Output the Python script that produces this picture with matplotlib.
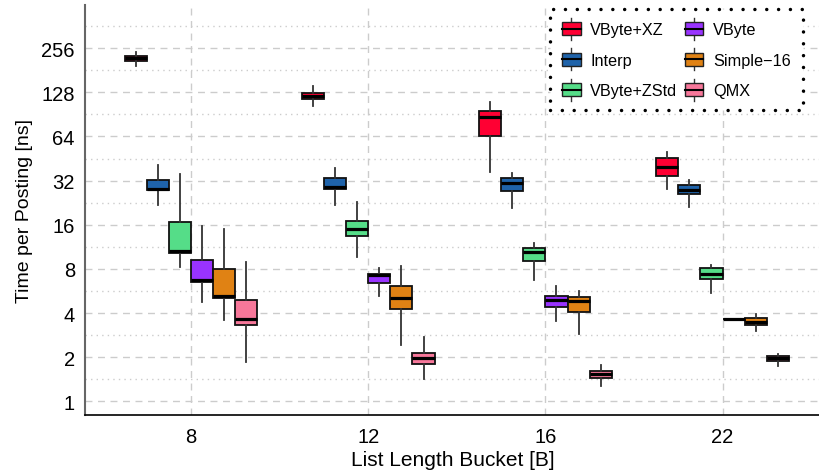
import matplotlib
matplotlib.use("Agg")
import matplotlib.pyplot as plt
import numpy as np
from matplotlib.patches import Rectangle, Patch
from matplotlib.lines import Line2D
from matplotlib.legend_handler import HandlerBase

plt.rcParams['font.family'] = ['Liberation Sans', 'DejaVu Sans']

buckets = ['8', '12', '16', '22']
methods = ['VByte+XZ', 'Interp', 'VByte+ZStd', 'VByte', 'Simple\u221216', 'QMX']
colors = ['#FF0033', '#1F63AA', '#55DD88', '#9933FF', '#E08214', '#F7779A']

# per method: one value per bucket (8, 12, 16, 22)
whislo = {
    'VByte+XZ':   [194, 102.6, 36.6, 28.0],
    'Interp':     [21.8, 21.9, 20.8, 21.0],
    'VByte+ZStd': [8.27, 9.59, 6.75, 5.5],
    'VByte':      [4.73, 5.2, 3.51, 3.62],
    'Simple\u221216': [3.6, 2.43, 2.88, 3.03],
    'QMX':        [1.86, 1.42, 1.28, 1.75],
}
q1 = {
    'VByte+XZ':   [211, 116, 64.4, 34.2],
    'Interp':     [27.6, 28.0, 27.3, 25.8],
    'VByte+ZStd': [10.3, 13.4, 9.04, 6.85],
    'VByte':      [6.54, 6.4, 4.37, 3.62],
    'Simple\u221216': [5.04, 4.24, 4.04, 3.30],
    'QMX':        [3.33, 1.80, 1.45, 1.88],
}
med = {
    'VByte+XZ':   [219, 121, 86.7, 39.6],
    'Interp':     [28.0, 28.9, 30.9, 27.7],
    'VByte+ZStd': [10.6, 15.0, 10.5, 7.41],
    'VByte':      [6.75, 7.23, 4.88, 3.62],
    'Simple\u221216': [5.25, 5.06, 4.8, 3.47],
    'QMX':        [3.64, 1.96, 1.53, 1.97],
}
q3 = {
    'VByte+XZ':   [225, 125.8, 95.3, 45.3],
    'Interp':     [32.4, 33.1, 33.1, 29.7],
    'VByte+ZStd': [16.8, 16.9, 11.1, 8.07],
    'VByte':      [9.23, 7.34, 5.25, 3.62],
    'Simple\u221216': [8.02, 6.11, 5.12, 3.70],
    'QMX':        [4.93, 2.13, 1.61, 2.04],
}
whishi = {
    'VByte+XZ':   [243, 141.7, 110, 49.8],
    'Interp':     [41.0, 38.8, 35.8, 32.4],
    'VByte+ZStd': [35.4, 22.7, 12.1, 8.49],
    'VByte':      [15.7, 8.07, 6.08, 3.62],
    'Simple\u221216': [14.9, 8.32, 5.62, 3.92],
    'QMX':        [8.95, 2.73, 1.78, 2.09],
}

yticks = [1, 2, 4, 8, 16, 32, 64, 128, 256]

fig = plt.figure(figsize=(8.2, 4.77), dpi=100)
ax = fig.add_axes([0.1033, 0.1285, 0.8967, 0.8585])

box_w = 0.125
for i, m in enumerate(methods):
    stats = []
    for g in range(len(buckets)):
        stats.append(dict(whislo=whislo[m][g], q1=q1[m][g], med=med[m][g],
                          q3=q3[m][g], whishi=whishi[m][g], fliers=[]))
    pos = [g + 1 + (i - 2.5) * box_w for g in range(len(buckets))]
    ax.bxp(stats, positions=pos, widths=box_w, patch_artist=True,
           showcaps=False, showfliers=False,
           boxprops=dict(facecolor=colors[i], edgecolor='#111111', linewidth=1.3),
           medianprops=dict(color='black', linewidth=2.3, solid_capstyle='butt'),
           whiskerprops=dict(color='#333333', linewidth=1.3),
           manage_ticks=False, zorder=3)

ax.set_yscale('log', base=2)
ax.set_yticks(yticks)
ax.set_yticklabels([str(v) for v in yticks])
ax.set_yticks([2 ** (k + 0.5) for k in range(-1, 9)], minor=True)
ax.yaxis.set_minor_formatter(matplotlib.ticker.NullFormatter())
ax.set_xticks(range(1, len(buckets) + 1))
ax.set_xticklabels(buckets)
ax.set_ylim(0.81, 503)
ax.set_xlim(0.40, 4.55)

ax.grid(axis='y', which='major', color='#cccccc', linestyle=(0, (5, 4)), linewidth=1.0, zorder=0)
ax.grid(axis='y', which='minor', color='#cccccc', linestyle=(0, (1, 3)), linewidth=1.0, zorder=0)
ax.grid(axis='x', which='major', color='#cccccc', linestyle=(0, (5, 4)), linewidth=1.0, zorder=0)
ax.set_axisbelow(True)

ax.tick_params(axis='both', which='both', length=0, labelsize=14.5)
ax.tick_params(axis='x', pad=9)
ax.tick_params(axis='y', pad=7)
for s in ['top', 'right']:
    ax.spines[s].set_visible(False)
ax.spines['left'].set_color('#666666')
ax.spines['left'].set_linewidth(1.5)
ax.spines['bottom'].set_color('black')
ax.spines['bottom'].set_linewidth(1.2)

ax.set_ylabel('Time per Posting [ns]', fontsize=14, labelpad=6)
ax.set_xlabel('List Length Bucket [B]', fontsize=15, labelpad=3)


class BoxHandler(HandlerBase):
    def create_artists(self, legend, orig_handle, xdescent, ydescent,
                       width, height, fontsize, trans):
        x0, y0 = -xdescent, -ydescent
        fc = orig_handle.get_facecolor()
        xm = x0 + width / 2
        wt = Line2D([xm, xm], [y0 + 0.95 * height, y0 + 1.25 * height],
                    color='#333333', lw=1.0, transform=trans)
        wb = Line2D([xm, xm], [y0 + 0.05 * height, y0 - 0.25 * height],
                    color='#333333', lw=1.0, transform=trans)
        rect = Rectangle((x0, y0 + 0.05 * height), width, 0.9 * height,
                         facecolor=fc, edgecolor='#222222', lw=1.0, transform=trans)
        md = Line2D([x0, x0 + width], [y0 + height / 2] * 2,
                    color='black', lw=1.5, transform=trans)
        return [wt, wb, rect, md]


handles = [Patch(facecolor=c) for c in colors]
leg = ax.legend(handles, methods, ncol=2, loc='upper right',
                bbox_to_anchor=(0.977, 0.990), borderaxespad=0,
                fontsize=11.7, handler_map={Patch: BoxHandler()},
                handlelength=1.15, handleheight=1.0, handletextpad=0.6,
                columnspacing=0.45, labelspacing=0.9, borderpad=0.75,
                fancybox=False, framealpha=1.0)
fr = leg.get_frame()
fr.set_edgecolor('black')
fr.set_linewidth(2.5)
fr.set_linestyle((0, (0.01, 3.4)))
fr.set_capstyle('round')
leg.set_zorder(5)

fig.savefig('out.png', dpi=100)
